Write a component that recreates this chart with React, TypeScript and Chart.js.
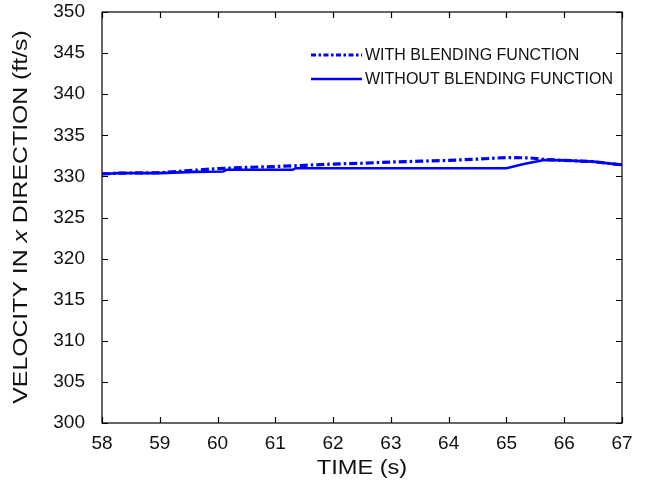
import React, { useEffect, useRef } from "react";
import { Chart, registerables } from "chart.js";

Chart.register(...registerables);

// Time (s) and x-velocity (ft/s) samples for each run
const timeWith = [58, 58.3, 59, 59.5, 60, 60.5, 61, 61.5, 62, 62.5, 63, 63.5, 64, 64.5, 65, 65.4, 65.7, 66, 66.5, 67];
const velocityWith = [330.3, 330.4, 330.45, 330.7, 330.95, 331.1, 331.2, 331.35, 331.5, 331.6, 331.75, 331.85, 331.95, 332.1, 332.3, 332.25, 332.05, 331.95, 331.8, 331.4];

const timeWithout = [58, 58.3, 59, 59.6, 60.1, 60.15, 61.3, 61.35, 65.0, 65.3, 65.65, 66.0, 66.5, 67];
const velocityWithout = [330.3, 330.4, 330.4, 330.55, 330.6, 330.8, 330.8, 331.0, 331.0, 331.5, 332.0, 331.95, 331.8, 331.4];

const seriesLabels = ["WITH BLENDING FUNCTION", "WITHOUT BLENDING FUNCTION"];
const xTitle = "TIME (s)";
const yTitleParts = ["VELOCITY IN ", "x", " DIRECTION (ft/s)"];

const BLUE = "#0000ff";
const FONT = "'Liberation Sans', Arial, sans-serif";
const DASH_DOT = [8, 3, 2.5, 3];

const toPoints = (xs: number[], ys: number[]) => xs.map((x, i) => ({ x, y: ys[i] }));

// Box frame with inward ticks on all four sides, plus legend and axis titles
const framePlugin = {
  id: "frame",
  afterDraw(chart: any) {
    const { ctx, chartArea: a, scales } = chart;
    const xs = scales.x;
    const ys = scales.y;
    ctx.save();
    ctx.strokeStyle = "#000";
    ctx.lineWidth = 1.2;
    ctx.strokeRect(a.left, a.top, a.right - a.left, a.bottom - a.top);
    const tl = 6;
    ctx.beginPath();
    xs.ticks.forEach((t: any) => {
      const px = Math.round(xs.getPixelForValue(t.value)) + 0.5;
      ctx.moveTo(px, a.bottom);
      ctx.lineTo(px, a.bottom - tl);
      ctx.moveTo(px, a.top);
      ctx.lineTo(px, a.top + tl);
    });
    ys.ticks.forEach((t: any) => {
      const py = Math.round(ys.getPixelForValue(t.value)) + 0.5;
      ctx.moveTo(a.left, py);
      ctx.lineTo(a.left + tl, py);
      ctx.moveTo(a.right, py);
      ctx.lineTo(a.right - tl, py);
    });
    ctx.stroke();

    // legend
    ctx.lineWidth = 3;
    ctx.strokeStyle = BLUE;
    const lx0 = 311;
    const lx1 = 362;
    const rows = [55, 79];
    ctx.setLineDash([5, 2.5, 2.5, 2.5]);
    ctx.beginPath();
    ctx.moveTo(lx0, rows[0]);
    ctx.lineTo(lx1, rows[0]);
    ctx.stroke();
    ctx.setLineDash([]);
    ctx.lineWidth = 2.5;
    ctx.beginPath();
    ctx.moveTo(lx0, rows[1]);
    ctx.lineTo(lx1, rows[1]);
    ctx.stroke();
    ctx.fillStyle = "#111";
    ctx.font = `16px ${FONT}`;
    ctx.textBaseline = "middle";
    ctx.textAlign = "left";
    seriesLabels.forEach((s, i) => ctx.fillText(s, lx1 + 3, rows[i] + 1));

    // x-axis title, slightly widened
    ctx.save();
    ctx.font = `20px ${FONT}`;
    ctx.textAlign = "center";
    ctx.translate((a.left + a.right) / 2, 468);
    ctx.scale(1.18, 1);
    ctx.fillText(xTitle, 0, 0);
    ctx.restore();

    // y-axis title with italic variable
    const fonts = [`20px ${FONT}`, `italic 20px ${FONT}`, `20px ${FONT}`];
    const widths = yTitleParts.map((p, i) => {
      ctx.font = fonts[i];
      return ctx.measureText(p).width;
    });
    const total = widths.reduce((s, w) => s + w, 0);
    ctx.translate(21, 217);
    ctx.rotate(-Math.PI / 2);
    ctx.scale(1.24, 1);
    ctx.textAlign = "left";
    let cx = -total / 2;
    yTitleParts.forEach((p, i) => {
      ctx.font = fonts[i];
      ctx.fillText(p, cx, 0);
      cx += widths[i];
    });
    ctx.restore();
  },
};

export default function App() {
  const canvasRef = useRef<HTMLCanvasElement | null>(null);

  useEffect(() => {
    const canvas = canvasRef.current;
    if (!canvas) return;
    const chart = new Chart(canvas, {
      type: "line",
      data: {
        datasets: [
          {
            label: seriesLabels[1],
            data: toPoints(timeWithout, velocityWithout),
            borderColor: BLUE,
            borderWidth: 2.6,
            pointRadius: 0,
            tension: 0,
          },
          {
            label: seriesLabels[0],
            data: toPoints(timeWith, velocityWith),
            borderColor: BLUE,
            borderWidth: 3.2,
            borderDash: DASH_DOT,
            pointRadius: 0,
            tension: 0,
          },
        ],
      },
      options: {
        animation: false,
        responsive: false,
        devicePixelRatio: 1,
        layout: { padding: { top: 12, right: 29, left: 0, bottom: 0 } },
        plugins: { legend: { display: false }, tooltip: { enabled: false } },
        scales: {
          x: {
            type: "linear",
            min: 58,
            max: 67,
            grid: { display: false },
            border: { display: false },
            ticks: {
              stepSize: 1,
              color: "#111",
              font: { family: FONT, size: 19 },
              padding: 1,
            },
            afterFit(scale: any) {
              scale.height = 67;
              scale.paddingLeft = 0;
              scale.paddingRight = 0;
            },
          },
          y: {
            min: 300,
            max: 350,
            grid: { display: false },
            border: { display: false },
            ticks: {
              stepSize: 5,
              color: "#111",
              font: { family: FONT, size: 19 },
              padding: 9,
            },
            afterFit(scale: any) {
              scale.width = 102;
              scale.paddingTop = 0;
              scale.paddingBottom = 0;
            },
          },
        },
      },
      plugins: [framePlugin],
    });
    return () => chart.destroy();
  }, []);

  return (
    <div style={{ position: "fixed", left: 0, top: 0, width: 651, height: 490, background: "#fff" }}>
      <canvas ref={canvasRef} width={651} height={490} />
    </div>
  );
}
